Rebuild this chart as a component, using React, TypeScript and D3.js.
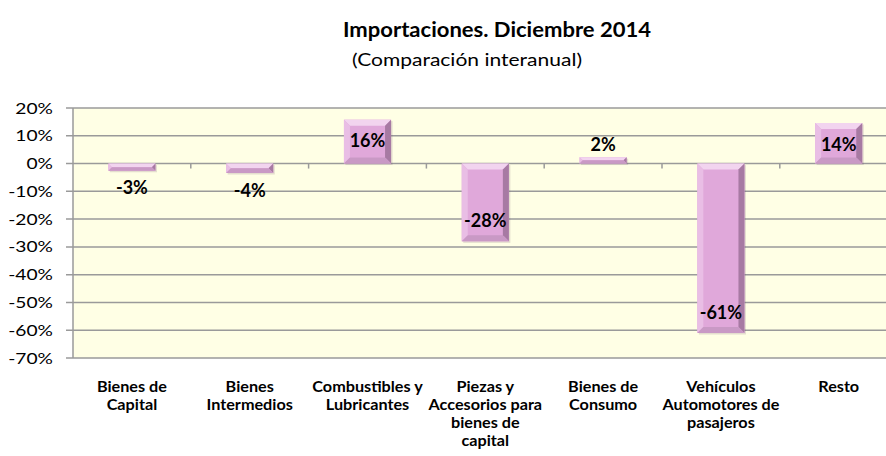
import React from "react";
import * as d3 from "d3";

const categories: string[][] = [
  ["Bienes de", "Capital"],
  ["Bienes", "Intermedios"],
  ["Combustibles y", "Lubricantes"],
  ["Piezas y", "Accesorios para", "bienes de", "capital"],
  ["Bienes de", "Consumo"],
  ["Vehículos", "Automotores de", "pasajeros"],
  ["Resto"],
];
const values: number[] = [-2.6, -3.4, 15.8, -28.0, 2.3, -61.0, 14.6];
const valueLabels: string[] = ["-3%", "-4%", "16%", "-28%", "2%", "-61%", "14%"];
const yTicks: number[] = [20, 10, 0, -10, -20, -30, -40, -50, -60, -70];

const W = 886;
const H = 456;
const FONT = "Lato, 'Open Sans', sans-serif";

export default function App() {
  const left = 73;
  const top = 108;
  const bottom = 358;
  const catW = 117.8;
  const idx = categories.map((_, i) => String(i));
  const x = d3.scaleBand<string>().domain(idx).range([left, left + catW * categories.length]).paddingInner(0.6).paddingOuter(0.3);
  const xc = d3.scaleBand<string>().domain(idx).range([left, left + catW * categories.length]);
  const y = d3.scaleLinear().domain([-70, 20]).range([bottom, top]);

  const bars = values.map((v, i) => {
    const bx = x(String(i))!;
    const bw = x.bandwidth();
    const y0 = y(0);
    const y1 = y(v);
    const t = Math.min(y0, y1);
    const h = Math.abs(y1 - y0);
    const b = Math.min(6, h / 2, bw / 2);
    const r = bx + bw;
    const btm = t + h;
    return (
      <g key={i}>
        <rect x={bx + 1.5} y={t + 1.5} width={bw} height={h} fill="#6a4a68" opacity={0.18} />
        <rect x={bx} y={t} width={bw} height={h} fill="#E0A8DA" />
        <polygon points={`${bx},${t} ${r},${t} ${r - b},${t + b} ${bx + b},${t + b}`} fill="#F2D4EF" />
        <polygon points={`${bx},${t} ${bx + b},${t + b} ${bx + b},${btm - b} ${bx},${btm}`} fill="#E9BEE5" />
        <polygon points={`${r},${t} ${r},${btm} ${r - b},${btm - b} ${r - b},${t + b}`} fill="#A77AA3" />
        <polygon points={`${bx},${btm} ${r},${btm} ${r - b},${btm - b} ${bx + b},${btm - b}`} fill="#C999C5" />
      </g>
    );
  });

  const labels = values.map((v, i) => {
    const cx = x(String(i))! + x.bandwidth() / 2;
    const small = Math.abs(v) < 5;
    let cy: number;
    if (small) {
      cy = v < 0 ? y(v) + 17 : y(v) - 13;
    } else {
      cy = v < 0 ? y(v) - 21 : y(v) + 21;
    }
    return (
      <text key={i} x={cx} y={cy + 6.5} textAnchor="middle" fontFamily={FONT} fontWeight="bold" fontSize={18} fill="#000">
        {valueLabels[i]}
      </text>
    );
  });

  return (
    <svg width={W} height={H} style={{ position: "absolute", left: 0, top: 0, background: "#fff" }}>
      <text x={497} y={37} textAnchor="middle" fontFamily={FONT} fontWeight="bold" fontSize={21} fill="#000"
        textLength={308} lengthAdjust="spacingAndGlyphs">
        Importaciones. Diciembre 2014
      </text>
      <text x={467} y={66} textAnchor="middle" fontFamily={FONT} fontSize={17} fill="#000"
        textLength={230} lengthAdjust="spacingAndGlyphs">
        (Comparación interanual)
      </text>
      <rect x={left} y={top} width={W - left} height={bottom - top} fill="#FFFFE5" />
      {yTicks.map((t) => (
        <g key={t}>
          <line x1={left - 7} x2={W} y1={y(t)} y2={y(t)} stroke="#9a9a9a" strokeWidth={1.5} />
          <text transform={`translate(53,${y(t) + 5.5}) scale(1.28,1)`} textAnchor="end" fontFamily={FONT} fontSize={15} fill="#000">
            {`${t}%`}
          </text>
        </g>
      ))}
      <line x1={left} x2={left} y1={top} y2={bottom} stroke="#9a9a9a" strokeWidth={1.5} />
      {idx.map((k, i) => (i === 0 ? null : (
        <line key={k} x1={xc(k)!} x2={xc(k)!} y1={y(0)} y2={y(0) + 5} stroke="#9a9a9a" strokeWidth={1.5} />
      )))}
      {bars}
      {labels}
      {categories.map((lines, i) => (
        <text key={i} transform={`translate(${xc(String(i))! + xc.bandwidth() / 2},0) scale(1.08,1)`}
          textAnchor="middle" fontFamily={FONT} fontWeight="bold" fontSize={15} fill="#000">
          {lines.map((ln, j) => (
            <tspan key={j} x={0} y={392 + j * 18}>{ln}</tspan>
          ))}
        </text>
      ))}
    </svg>
  );
}
